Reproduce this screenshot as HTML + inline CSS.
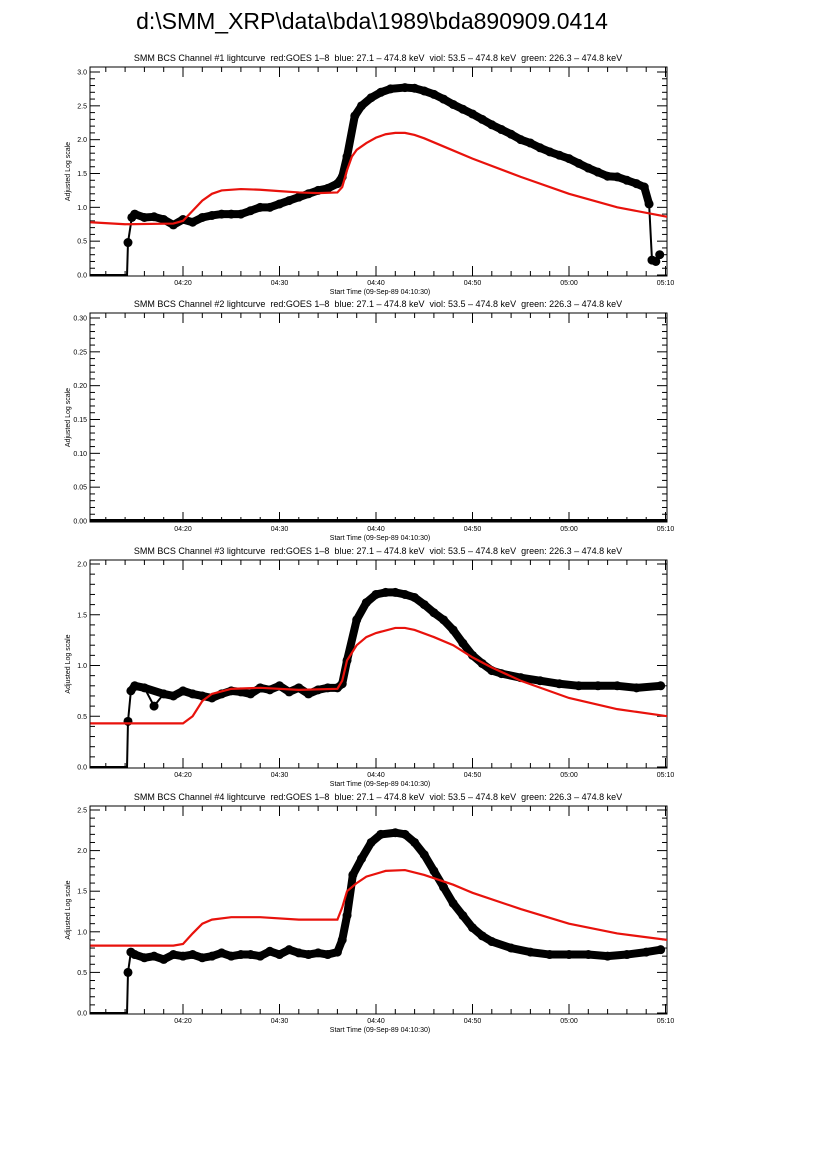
<!DOCTYPE html>
<html><head><meta charset="utf-8"><style>
body{margin:0;background:#fff;width:826px;height:1169px;overflow:hidden;font-family:"Liberation Sans",sans-serif}
text{white-space:pre}
</style></head><body>
<svg id="root" width="826" height="1169" viewBox="0 0 826 1169" xmlns="http://www.w3.org/2000/svg">
<text x="372" y="29" font-size="23" text-anchor="middle" font-family="Liberation Sans, sans-serif">d:\SMM_XRP\data\bda\1989\bda890909.0414</text>
</svg>
<script>
// time in minutes after 04:00
const p1BlackT=[10.4,14.2,14.3,14.7,15,16,17,18,19,20,21,22,23,24,25,26,27,28,29,30,31,32,33,34,35,36,36.5,37,37.8,38.5,39.5,40.5,41.5,43,44,45,46,47,48,49,50,51,52,53,54,55,56,57,58,59,60,61,62,63,64,65,66,67,67.8,68.3,68.6,69,69.4];
const p1BlackV=[0,0,0.48,0.85,0.9,0.85,0.86,0.82,0.74,0.82,0.78,0.85,0.88,0.9,0.9,0.9,0.95,1.0,1.0,1.05,1.1,1.15,1.2,1.25,1.28,1.35,1.45,1.75,2.35,2.5,2.62,2.7,2.75,2.77,2.76,2.72,2.67,2.6,2.52,2.45,2.38,2.3,2.22,2.15,2.08,2.0,1.95,1.88,1.82,1.77,1.72,1.65,1.58,1.52,1.46,1.45,1.4,1.35,1.3,1.05,0.22,0.2,0.3];
const p1RedT=[10.4,14,19,20,21,22,23,24,26,28,30,32,34,36,36.5,37,37.5,38,39,40,41,42,43,44,45,47,50,55,60,65,70.2];
const p1RedV=[0.78,0.75,0.76,0.8,0.95,1.1,1.2,1.25,1.27,1.26,1.24,1.22,1.21,1.22,1.3,1.55,1.75,1.85,1.95,2.03,2.08,2.1,2.1,2.07,2.02,1.9,1.72,1.45,1.2,1.0,0.86];
const p2BlackT=[10.4,20,30,40,50,60,70.2];
const p2BlackV=[0,0,0,0,0,0,0];
const p3BlackT=[10.4,14.2,14.3,14.6,15,16,17,18,19,20,21,22,23,24,25,26,27,28,29,30,31,32,33,34,35,36,36.5,37,38,39,40,41,42,43,44,45,46,47,48,49,50,51,52,53,55,57,59,61,63,65,67,69.5];
const p3BlackV=[0,0,0.45,0.75,0.8,0.78,0.6,0.72,0.7,0.75,0.72,0.7,0.68,0.72,0.75,0.74,0.72,0.78,0.76,0.8,0.74,0.78,0.72,0.76,0.78,0.78,0.82,1.05,1.45,1.62,1.7,1.72,1.72,1.7,1.67,1.6,1.52,1.45,1.35,1.22,1.1,1.02,0.95,0.92,0.88,0.85,0.82,0.8,0.8,0.8,0.78,0.8];
const p3RedT=[10.4,20,21,22,23,25,28,32,36,36.5,37,38,39,40,42,43,44,46,48,50,52,55,60,65,70.2];
const p3RedV=[0.43,0.43,0.5,0.65,0.72,0.77,0.78,0.76,0.77,0.85,1.05,1.2,1.28,1.32,1.37,1.37,1.35,1.28,1.2,1.08,0.98,0.85,0.68,0.57,0.5];
const p4BlackT=[10.4,14.2,14.3,14.6,15,16,17,18,19,20,21,22,23,24,25,26,27,28,29,30,31,32,33,34,35,36,36.5,37,37.6,38.5,39.5,40.5,42,43,44,45,46,47,48,49,50,51,52,54,56,58,60,62,64,66,68,69.5];
const p4BlackV=[0,0,0.5,0.75,0.72,0.68,0.7,0.66,0.72,0.7,0.72,0.68,0.7,0.74,0.7,0.72,0.72,0.7,0.76,0.72,0.78,0.74,0.72,0.74,0.72,0.75,0.9,1.2,1.7,1.9,2.1,2.2,2.22,2.2,2.1,1.95,1.75,1.55,1.35,1.2,1.05,0.95,0.88,0.8,0.75,0.72,0.72,0.72,0.7,0.72,0.75,0.78];
const p4RedT=[10.4,19,20,21,22,23,25,28,32,36,36.5,37,38,39,41,43,45,48,50,55,60,65,70.2];
const p4RedV=[0.83,0.83,0.85,0.98,1.1,1.15,1.18,1.18,1.15,1.15,1.3,1.5,1.6,1.68,1.75,1.76,1.7,1.58,1.48,1.28,1.1,0.98,0.9];
const xTickLabels=["04:20","04:30","04:40","04:50","05:00","05:10"];
const xTickMinutes=[20,30,40,50,60,70];
const p1YTicks=["0.0","0.5","1.0","1.5","2.0","2.5","3.0"];
const p2YTicks=["0.00","0.05","0.10","0.15","0.20","0.25","0.30"];
const p3YTicks=["0.0","0.5","1.0","1.5","2.0"];
const p4YTicks=["0.0","0.5","1.0","1.5","2.0","2.5"];

const NS="http://www.w3.org/2000/svg";
const root=document.getElementById('root');
const L=90,R=667;
function xs(m){return 183+(m-20)*9.65;}
function mk(tag,attrs,parent){const e=document.createElementNS(NS,tag);for(const k in attrs)e.setAttribute(k,attrs[k]);(parent||root).appendChild(e);return e;}
const title="SMM BCS Channel #N lightcurve  red:GOES 1\u20138  blue: 27.1 \u2013 474.8 keV  viol: 53.5 \u2013 474.8 keV  green: 226.3 \u2013 474.8 keV";
const panels=[
 {n:1,top:67,bot:276,y0:275,ymax:3.0,ticks:p1YTicks,bt:p1BlackT,bv:p1BlackV,rt:p1RedT,rv:p1RedV},
 {n:2,top:313,bot:522,y0:521,ymax:0.30,ticks:p2YTicks,bt:p2BlackT,bv:p2BlackV,rt:null,rv:null},
 {n:3,top:560,bot:768,y0:767,ymax:2.0,ticks:p3YTicks,bt:p3BlackT,bv:p3BlackV,rt:p3RedT,rv:p3RedV},
 {n:4,top:806,bot:1014,y0:1013,ymax:2.5,ticks:p4YTicks,bt:p4BlackT,bv:p4BlackV,rt:p4RedT,rv:p4RedV}
];
panels.forEach(p=>{
 const g=mk('g',{});
 
 
 const ys=v=>p.y0-(v/p.ymax)*203;
 const t=mk('text',{x:378,y:p.top-6,'font-size':9,'text-anchor':'middle'},g);
 t.textContent=title.replace('#N','#'+p.n);
 
 
 const cp=mk('clipPath',{id:'c'+p.n},g);mk('rect',{x:L,y:p.top,width:R-L,height:p.bot-p.top},cp);
 const fr=mk('rect',{x:L,y:p.top,width:R-L,height:p.bot-p.top,fill:'none',stroke:'#000','stroke-width':1},g);
 
 
 for(let m=12;m<=70;m+=2){const x=xs(m);const maj=m%10===0;const len=maj?10:5;
  mk('line',{x1:x,y1:p.bot,x2:x,y2:p.bot-len,stroke:'#000'},g);
  mk('line',{x1:x,y1:p.top,x2:x,y2:p.top+len,stroke:'#000'},g);}
 xTickMinutes.forEach((m,i)=>{const tx=mk('text',{x:xs(m),y:p.bot+9,'font-size':7,'text-anchor':'middle'},g);tx.textContent=xTickLabels[i];
  
  });
 const xl=mk('text',{x:380,y:p.bot+18,'font-size':7,'text-anchor':'middle'},g);xl.textContent='Start Time (09-Sep-89 04:10:30)';
 
 
 const nMaj=p.ticks.length-1;const step=p.ymax/nMaj;
 for(let i=0;i<=nMaj*5;i++){const v=i*step/5;const y=ys(v);const maj=i%5===0;const len=maj?10:5;
  mk('line',{x1:L,y1:y,x2:L+len,y2:y,stroke:'#000'},g);
  mk('line',{x1:R,y1:y,x2:R-len,y2:y,stroke:'#000'},g);}
 p.ticks.forEach((lab,i)=>{const ty=mk('text',{x:L-3,y:ys(i*step)+2.5,'font-size':7,'text-anchor':'end'},g);ty.textContent=lab;
  
  });
 const yc=(p.top+p.bot)/2;
 const yl=mk('text',{x:70,y:yc,'font-size':7,'text-anchor':'middle',transform:'rotate(-90 70 '+yc+')'},g);yl.textContent='Adjusted Log scale';
 
 
 const dg=mk('g',{'clip-path':'url(#c'+p.n+')'},g);
 const pts=p.bt.map((m,i)=>xs(m)+','+ys(p.bv[i])).join(' ');
 const bl=mk('polyline',{points:pts,fill:'none',stroke:'#000','stroke-width':p.n===2?4:2},dg);
 
 
 const nz=p.bt.map((m,i)=>[m,p.bv[i]]).filter(d=>d[1]>0.6);
 if(nz.length){
  const band=mk('polyline',{points:nz.map(d=>xs(d[0])+','+ys(d[1])).join(' '),fill:'none',stroke:'#000','stroke-width':8,'stroke-linejoin':'round','stroke-linecap':'round'},dg);
  
  
 }
 p.bt.forEach((m,i)=>{if(p.bv[i]===0)return;const c=mk('circle',{cx:xs(m),cy:ys(p.bv[i]),r:4.5,fill:'#000'},dg);
  
  });
 if(p.rt){const rp=p.rt.map((m,i)=>xs(m)+','+ys(p.rv[i])).join(' ');
  const rl=mk('polyline',{points:rp,fill:'none',stroke:'#e8120c','stroke-width':2.2},dg);
  
  }
});
</script>
</body></html>
